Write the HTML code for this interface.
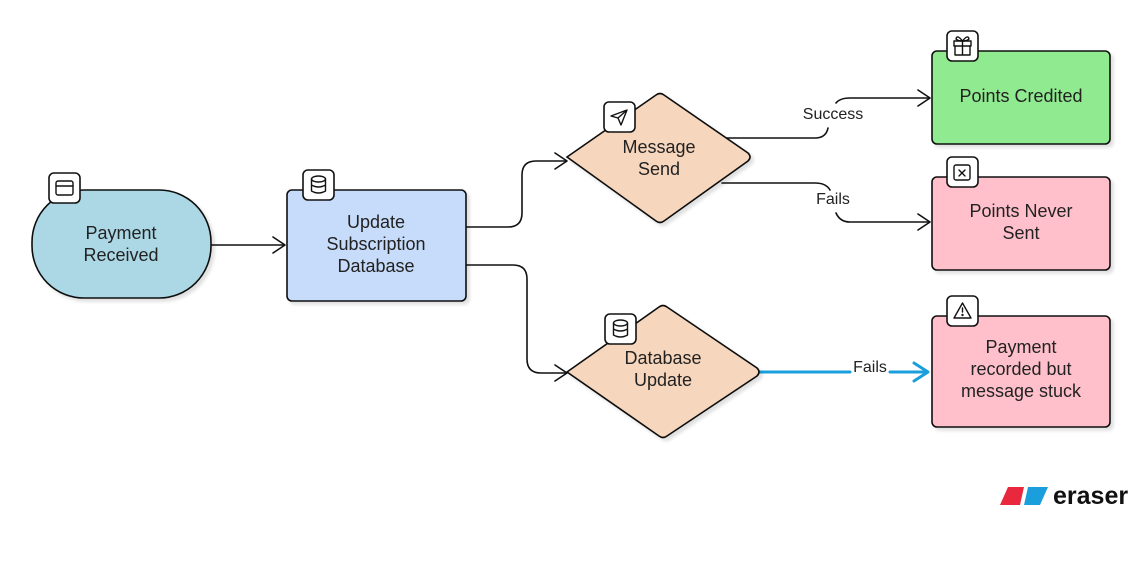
<!DOCTYPE html>
<html><head><meta charset="utf-8"><style>
html,body{margin:0;padding:0;background:#fff;width:1144px;height:563px;overflow:hidden}
svg text{font-family:"Liberation Sans",sans-serif;fill:#222}
</style></head><body>
<svg width="1144" height="563" viewBox="0 0 1144 563" xmlns="http://www.w3.org/2000/svg">
<defs>
<filter id="sh" x="-10%" y="-10%" width="130%" height="130%"><feDropShadow dx="3" dy="3" stdDeviation="1.5" flood-color="#000" flood-opacity="0.12"/></filter>
</defs>
<g fill="none" stroke="#111" stroke-width="1.6" stroke-linecap="round" stroke-linejoin="round">
<path d="M211 245 H284"/><path d="M273 237 L285 245 L273 253"/>
<path d="M466 227 H508 Q522 227 522 213 V175 Q522 161 536 161 H566"/><path d="M555 153 L567 161 L555 169"/>
<path d="M466 265 H513 Q527 265 527 279 V359 Q527 373 541 373 H566"/><path d="M555 365 L567 373 L555 381"/>
<path d="M722 138 H815 Q826 138 828 128"/><path d="M836 103 Q840 98 850 98 H929"/><path d="M918 90 L930 98 L918 106"/>
<path d="M722 183 H815 Q826 183 830 190"/><path d="M836 213 Q840 222 850 222 H929"/><path d="M918 214 L930 222 L918 230"/>
</g>
<path d="M760 372 H850 M890 372 H926" stroke="#1a9fdc" stroke-width="3" fill="none" stroke-linecap="round"/>
<path d="M914 363 L928 372 L914 381" stroke="#1a9fdc" stroke-width="3" fill="none" stroke-linecap="round" stroke-linejoin="round"/>
<text x="833" y="119" font-size="16" text-anchor="middle">Success</text>
<text x="833" y="204" font-size="16" text-anchor="middle">Fails</text>
<text x="870" y="372" font-size="16" text-anchor="middle">Fails</text>

<g stroke="#111" stroke-width="1.6" filter="url(#sh)">
<rect x="32" y="190" width="179" height="108" rx="52" fill="#acd8e6"/>
<rect x="287" y="190" width="179" height="111" rx="5" fill="#c7dcfa"/>
<path d="M567 157 L656 95 Q660 92 664 95 L748 153 Q752 157 748 161 L664 221 Q660 224 656 221 Z" fill="#f6d6bd"/>
<path d="M567 372 L659 307 Q663 304 667 307 L757 368 Q761 372 757 376 L667 436 Q663 439 659 436 Z" fill="#f6d6bd"/>
<rect x="932" y="51" width="178" height="93" rx="5" fill="#90ea8f"/>
<rect x="932" y="177" width="178" height="93" rx="5" fill="#ffc0cb"/>
<rect x="932" y="316" width="178" height="111" rx="5" fill="#ffc0cb"/>
</g>
<g font-size="18" text-anchor="middle">
<text x="121" y="239">Payment</text><text x="121" y="261">Received</text>
<text x="376" y="228">Update</text><text x="376" y="250">Subscription</text><text x="376" y="272">Database</text>
<text x="659" y="153">Message</text><text x="659" y="175">Send</text>
<text x="663" y="364">Database</text><text x="663" y="386">Update</text>
<text x="1021" y="102">Points Credited</text>
<text x="1021" y="217">Points Never</text><text x="1021" y="239">Sent</text>
<text x="1021" y="353">Payment</text><text x="1021" y="375">recorded but</text><text x="1021" y="397">message stuck</text>
</g>
<g fill="#fff" stroke="#111" stroke-width="1.6">
<rect x="49" y="173" width="31" height="30" rx="5"/>
<rect x="303" y="170" width="31" height="30" rx="5"/>
<rect x="604" y="102" width="31" height="30" rx="5"/>
<rect x="605" y="314" width="31" height="30" rx="5"/>
<rect x="947" y="31" width="31" height="30" rx="5"/>
<rect x="947" y="157" width="31" height="30" rx="5"/>
<rect x="947" y="296" width="31" height="30" rx="5"/>
</g>
<g fill="none" stroke="#111" stroke-width="1.4" stroke-linecap="round" stroke-linejoin="round">
<rect x="56" y="181" width="17" height="14" rx="2"/><path d="M56 186 H73"/>
<ellipse cx="318.5" cy="179" rx="7" ry="3"/><path d="M311.5 179 V191 Q318.5 195 325.5 191 V179 M311.5 185 Q318.5 189 325.5 185"/>
<ellipse cx="620.5" cy="323" rx="7" ry="3"/><path d="M613.5 323 V335 Q620.5 339 627.5 335 V323 M613.5 329 Q620.5 333 627.5 329"/>
<path d="M627 110 L611 116 L618 118 L621 125 Z M618 118 L627 110"/>
<rect x="954" y="41" width="17" height="5"/><path d="M955 46 V55 H970 V46 M962.5 41 V55 M962.5 41 Q957 34 956 39 Q958 41 962.5 41 Q968 34 969 39 Q967 41 962.5 41"/>
<rect x="954" y="165" width="16" height="15" rx="2"/><path d="M959 170 L965 176 M965 170 L959 176"/>
<path d="M962.5 303 L971 318 H954 Z M962.5 308 V312"/><circle cx="962.5" cy="315" r="0.5"/>
</g>
<path d="M1008 487 H1024 L1020 505 H1000 Z" fill="#e9283d"/>
<path d="M1028 487 H1048 L1040 505 H1024 Z" fill="#1a9fdc"/>
<text x="1053" y="504" font-size="25" font-weight="bold" style="fill:#111">eraser</text>
</svg>
</body></html>
